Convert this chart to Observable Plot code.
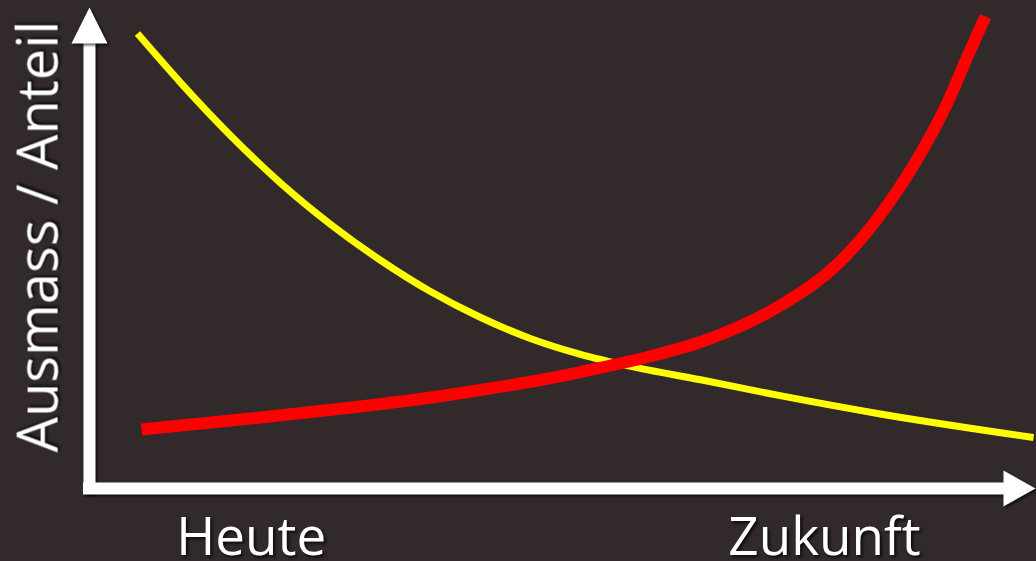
<!DOCTYPE html>
<html>
<head>
<meta charset="utf-8">
<script src="https://cdn.jsdelivr.net/npm/d3@7"></script>
<script src="https://cdn.jsdelivr.net/npm/@observablehq/plot@0.6"></script>
<style>
  html, body { margin: 0; padding: 0; background: #31292a; overflow: hidden; }
  #chart svg { display: block; }
  #chart svg text { filter: drop-shadow(2px 2px 1.5px rgba(0,0,0,0.75)); }
  #chart svg .axisShape { filter: drop-shadow(2px 2px 1px rgba(0,0,0,0.6)); }
</style>
</head>
<body>
<div id="chart"></div>
<script>
// Yellow curve (decreasing)
const yellowX = [5.07, 9.62, 14.9, 20.2, 25.5, 30.8, 36.0, 41.3, 46.6, 51.9, 57.2, 64.6, 73.0, 83.6, 99.8];
const yellowY = [94.6, 84.4, 73.4, 63.5, 54.9, 47.4, 41.0, 35.6, 31.2, 27.9, 25.4, 22.6, 19.3, 15.5, 10.6];
// Red curve (increasing, exponential)
const redX = [5.50, 17.02, 27.27, 34.99, 41.33, 47.67, 51.90, 58.99, 64.59, 73.04, 78.33, 80.97, 83.61, 87.10, 90.70, 92.81, 94.71];
const redY = [12.27, 14.55, 16.74, 18.61, 20.48, 22.56, 24.22, 27.34, 30.46, 38.05, 45.32, 50.52, 56.96, 67.15, 80.25, 89.81, 98.13];
// Axis labels
const xLabels = ["Heute", "Zukunft"];
const xLabelPos = [17.1, 77.7];
const yLabel = "Ausmass / Anteil";
const axisMax = 100;

const yellow = yellowX.map((x, i) => ({x, y: yellowY[i]}));
const red = redX.map((x, i) => ({x, y: redY[i]}));
const xLab = xLabels.map((t, i) => ({t, x: xLabelPos[i], y: -6}));

const headUp = {draw(ctx) { ctx.moveTo(0, 0); ctx.lineTo(18, 36); ctx.lineTo(-18, 36); ctx.closePath(); }};
const headRight = {draw(ctx) { ctx.moveTo(0, 0); ctx.lineTo(-32, -18); ctx.lineTo(-32, 18); ctx.closePath(); }};

const font = "'Open Sans', sans-serif";

const plot = Plot.plot({
  width: 1036,
  height: 561,
  marginLeft: 89,
  marginRight: 1,
  marginTop: 7,
  marginBottom: 73,
  style: {background: "#31292a", fontFamily: font, overflow: "visible"},
  x: {domain: [0, axisMax], axis: null},
  y: {domain: [0, axisMax], axis: null},
  marks: [
    Plot.ruleX([0], {y1: 0, y2: 93, stroke: "white", strokeWidth: 12, strokeLinecap: "square", className: "axisShape"}),
    Plot.ruleY([0], {x1: 0, x2: 96.6, stroke: "white", strokeWidth: 12, strokeLinecap: "square", className: "axisShape"}),
    Plot.dot([{x: 0, y: axisMax}], {x: "x", y: "y", symbol: headUp, fill: "white", stroke: null, r: 10, className: "axisShape"}),
    Plot.dot([{x: axisMax, y: 0}], {x: "x", y: "y", symbol: headRight, fill: "white", stroke: null, r: 10, className: "axisShape"}),
    Plot.line(yellow, {x: "x", y: "y", stroke: "#ffff00", strokeWidth: 7, curve: "monotone-x", strokeLinecap: "butt"}),
    Plot.line(red, {x: "x", y: "y", stroke: "#ff0000", strokeWidth: 12, curve: "monotone-x", strokeLinecap: "butt"}),
    Plot.text(xLab, {x: "x", y: "y", text: "t", fill: "white", fontSize: 53, textAnchor: "middle", lineAnchor: "top"}),
    Plot.text([yLabel], {x: -7.6, y: 52.4, text: d => d, fill: "white", fontSize: 56, rotate: -90, textAnchor: "middle", lineAnchor: "top"})
  ]
});
document.getElementById("chart").appendChild(plot);
</script>
</body>
</html>
